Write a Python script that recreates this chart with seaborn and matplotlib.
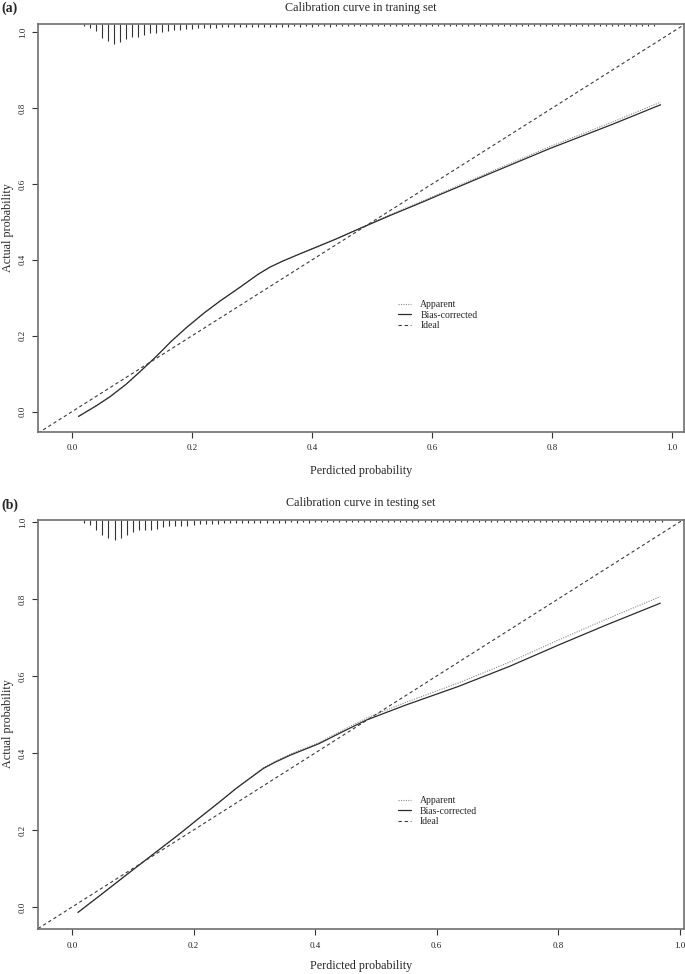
import numpy as np
import pandas as pd
import seaborn as sns
import matplotlib.pyplot as plt

# values

# (a) training set
train_pred = [0.0105, 0.04, 0.063, 0.09, 0.113, 0.14, 0.165, 0.191, 0.22, 0.247, 0.28, 0.31,
              0.33, 0.35, 0.38, 0.408, 0.44, 0.48, 0.53, 0.588, 0.613, 0.70, 0.797, 0.90, 0.981]
train_bias = [-0.013, 0.015, 0.039, 0.072, 0.105, 0.145, 0.185, 0.222, 0.260, 0.292, 0.328, 0.362,
              0.381, 0.396, 0.416, 0.434, 0.455, 0.483, 0.517, 0.555, 0.572, 0.630, 0.694, 0.757, 0.809]
train_app = [-0.013, 0.015, 0.039, 0.072, 0.105, 0.145, 0.185, 0.222, 0.260, 0.292, 0.328, 0.362,
             0.381, 0.396, 0.417, 0.435, 0.456, 0.484, 0.519, 0.558, 0.575, 0.634, 0.699, 0.763, 0.816]
train_counts = [2, 4, 7, 14, 17, 20, 18, 15, 13, 13, 11, 9, 9, 8, 7, 6, 6, 5, 5,
                4, 4, 4, 4, 3, 3, 3, 3, 3, 3,
                3, 3, 3, 3, 3, 3, 2, 3, 2, 3, 2, 2, 3, 2, 2, 2, 2, 2, 2, 2,
                2, 2, 2, 2, 2, 2, 2, 2, 2, 2, 2, 2, 2, 2, 2, 2, 1.5, 2, 2, 2,
                1.5, 2, 1.5, 2, 1.5, 1.5, 2, 1.5, 1.5, 1.5, 1.5, 1.5, 1.5, 1.5, 1.5, 1.5,
                1.5, 1.5, 1.5, 1.5, 1.5, 1.5, 1.5, 1.5, 1.5, 1.5, 1.5]

# (b) testing set
test_pred = [0.0097, 0.05, 0.098, 0.14, 0.177, 0.21, 0.242, 0.27, 0.295, 0.315, 0.334,
             0.36, 0.406, 0.445, 0.485, 0.55, 0.636, 0.72, 0.80, 0.88, 0.968]
test_bias = [-0.014, 0.035, 0.094, 0.145, 0.190, 0.232, 0.272, 0.308, 0.337, 0.360, 0.376,
             0.395, 0.424, 0.455, 0.486, 0.525, 0.573, 0.625, 0.680, 0.733, 0.789]
test_app = [-0.014, 0.035, 0.094, 0.145, 0.190, 0.232, 0.272, 0.308, 0.338, 0.362, 0.378,
            0.398, 0.427, 0.459, 0.491, 0.532, 0.582, 0.636, 0.693, 0.748, 0.806]
test_counts = [3, 5, 10, 15, 18, 20, 18, 15, 12, 10, 10, 10, 9, 7, 6, 6, 6, 6, 5,
               4, 4, 4, 4, 3, 3, 3, 3, 3, 3,
               3, 3, 3, 3, 3, 2, 3, 2, 3, 2, 2, 2, 2, 2, 2, 2, 2, 2, 2, 2,
               2, 2, 2, 2, 2, 2, 2, 2, 2, 2, 2, 2, 2, 2, 2, 2, 2, 2, 2, 2,
               1.5, 2, 1.5, 2, 1.5, 1.5, 2, 1.5, 1.5, 1.5, 1.5, 1.5, 1.5, 1.5, 1.5, 1.5,
               1.5, 1.5, 1.5, 1.5, 1.5, 1.5, 1.5, 1.5, 1.5, 1.5, 1.5]

bin_centres = np.round(np.arange(0.02, 0.975, 0.01), 2)
ticks = [0.0, 0.2, 0.4, 0.6, 0.8, 1.0]

sns.set_style("white")
plt.rcParams['font.family'] = ['Liberation Serif', 'DejaVu Serif']

W, H = 685, 974
fig = plt.figure(figsize=(W / 100, H / 100), dpi=100)


def px_axes(left, top, right, bottom):
    return fig.add_axes([left / W, 1 - bottom / H, (right - left) / W, (bottom - top) / H])


def draw_panel(ax, pred, app, bias, counts, xlim, ylim, legend_xy):
    df = pd.DataFrame({"pred": pred, "app": app, "bias": bias})
    sns.lineplot(data=df, x="pred", y="app", ax=ax, sort=False, estimator=None,
                 color="#8a8a8a", lw=0.8, linestyle=(0, (1, 1.2)), label="Apparent")
    sns.lineplot(data=df, x="pred", y="bias", ax=ax, sort=False, estimator=None,
                 color="#2b2b2b", lw=0.9, label="Bias-corrected")
    ax.plot(xlim, xlim, color="#3a3a3a", lw=0.8, linestyle=(0, (3, 2.5)), label="Ideal")

    # histogram spikes of predicted probabilities hanging from the top
    top = ylim[1]
    h = np.array(counts) / max(counts) * 0.053
    ax.vlines(bin_centres[:len(h)], top - h, top, color="#333333", lw=0.8)

    ax.set_xlim(xlim)
    ax.set_ylim(ylim)
    ax.set_xticks(ticks)
    ax.set_yticks(ticks)
    ax.set_xticklabels([f"{t:.1f}" for t in ticks])
    ax.set_yticklabels([f"{t:.1f}" for t in ticks], rotation=90, va="center")
    ax.tick_params(bottom=True, left=True, direction="out", length=4, width=0.8,
                   color="#333333", labelsize=6.5, labelcolor="#222222")
    ax.tick_params(axis="x", pad=5)
    ax.tick_params(axis="y", pad=4)
    ax.set_xlabel("")
    ax.set_ylabel("")
    for s in ax.spines.values():
        s.set_color("#6e6e6e")
        s.set_linewidth(1.2)

    ax.legend(loc="center left", bbox_to_anchor=legend_xy, bbox_transform=ax.transData,
              frameon=False, fontsize=7, handlelength=1.4, handletextpad=0.9,
              labelspacing=0.15, borderpad=0, borderaxespad=0)


ax_a = px_axes(38, 24, 684, 432)
draw_panel(ax_a, train_pred, train_app, train_bias, train_counts,
           (-0.057, 1.02), (-0.054, 1.022), (0.543, 0.254))

ax_b = px_axes(38, 520, 684, 929)
draw_panel(ax_b, test_pred, test_app, test_bias, test_counts,
           (-0.056, 1.007), (-0.057, 1.005), (0.536, 0.249))

cx = (38 + 684) / 2 / W
fig.text(cx, 1 - 8 / H, "Calibration curve in traning set", ha="center", va="center", fontsize=8.7)
fig.text(cx, 1 - 503 / H, "Calibration curve in testing set", ha="center", va="center", fontsize=8.7)
fig.text(cx, 1 - 471 / H, "Perdicted probability", ha="center", va="center", fontsize=8.7)
fig.text(cx, 1 - 966 / H, "Perdicted probability", ha="center", va="center", fontsize=8.7)
fig.text(8 / W, 1 - 228 / H, "Actual probability", ha="center", va="center", rotation=90, fontsize=8.7)
fig.text(8 / W, 1 - 724 / H, "Actual probability", ha="center", va="center", rotation=90, fontsize=8.7)
fig.text(1 / W, 1 - 8 / H, "(a)", ha="left", va="center", fontsize=10, fontweight="bold")
fig.text(1 / W, 1 - 505 / H, "(b)", ha="left", va="center", fontsize=10, fontweight="bold")

fig.savefig("out.png", dpi=100)
